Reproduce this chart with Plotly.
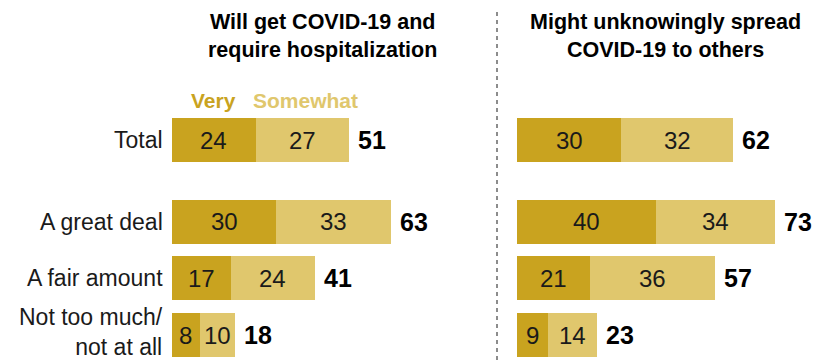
import plotly.graph_objects as go

# Survey rows and the two concerns shown side by side
categories = ["Total", "A great deal", "A fair amount", "Not too much/<br>not at all"]

hosp_very = [24, 30, 17, 8]
hosp_somewhat = [27, 33, 24, 10]
hosp_total = [51, 63, 41, 18]

spread_very = [30, 40, 21, 9]
spread_somewhat = [32, 34, 36, 14]
spread_total = [62, 73, 57, 23]

panel_titles = ["Will get COVID-19 and<br>require hospitalization",
                "Might unknowingly spread<br>COVID-19 to others"]
legend_labels = ["Very", "Somewhat"]

# Layout constants
W, H = 818, 360
row_pos = [0, 1.44, 2.44, 3.44]          # vertical slots (Total set apart)
ROW_PX = 56.75                           # pixels per slot
TOP_PX = 140                             # pixel centre of first row
PX_PER_UNIT = 3.48
LEFT0, LEFT1 = 172, 490
RIGHT0, RIGHT1 = 517, 818

COL_VERY = "#C9A31F"
COL_SOME = "#E0C76D"
FONT = "Liberation Sans, Arial, sans-serif"

y_top = -TOP_PX / ROW_PX
y_bot = (H - TOP_PX) / ROW_PX

fig = go.Figure()
annotations = []


def add_panel(very, some, tot, xa):
    common = dict(orientation="h", y=row_pos, width=0.775, xaxis=xa, yaxis="y",
                  hoverinfo="skip", showlegend=False)
    fig.add_trace(go.Bar(x=very, marker=dict(color=COL_VERY, line=dict(width=0)),
                         **common))
    fig.add_trace(go.Bar(x=some, base=very,
                         marker=dict(color=COL_SOME, line=dict(width=0)), **common))
    for v, s, t, yp in zip(very, some, tot, row_pos):
        # segment values, centred in each segment
        for base, val in ((0, v), (v, s)):
            annotations.append(dict(x=base + val / 2, y=yp, xref=xa, yref="y",
                                    text=str(val), showarrow=False,
                                    xanchor="center", yanchor="middle",
                                    font=dict(family=FONT, size=24, color="#1a1a1a")))
        # net total just past the bar end
        annotations.append(dict(x=v + s, y=yp, xref=xa, yref="y", text=str(t),
                                showarrow=False, xanchor="left", yanchor="middle",
                                xshift=7,
                                font=dict(family=FONT, size=25, color="#000000",
                                          weight="bold")))


add_panel(hosp_very, hosp_somewhat, hosp_total, "x")
add_panel(spread_very, spread_somewhat, spread_total, "x2")

# Row labels
for cat, yp in zip(categories, row_pos):
    two_line = "<br>" in cat
    annotations.append(dict(x=165 / W, y=yp, xref="paper", yref="y", text=cat,
                            showarrow=False, xanchor="right", yanchor="middle",
                            align="right", yshift=3 if two_line else 0,
                            font=dict(family=FONT, size=23, color="#1a1a1a")))

# Series key above the Total bar of the first panel
legend_y = (100 - TOP_PX) / ROW_PX
annotations.append(dict(x=hosp_very[0] / 2, y=legend_y, xref="x", yref="y",
                        text=legend_labels[0], showarrow=False, xanchor="center",
                        yanchor="middle",
                        font=dict(family=FONT, size=21, color=COL_VERY, weight="bold")))
annotations.append(dict(x=hosp_very[0] + hosp_somewhat[0] / 2, y=legend_y, xref="x",
                        yref="y", text=legend_labels[1], showarrow=False,
                        xanchor="center", yanchor="middle", xshift=3,
                        font=dict(family=FONT, size=21, color=COL_SOME, weight="bold")))

# Panel titles
for title, cx in zip(panel_titles, [322, 665]):
    annotations.append(dict(x=cx / W, y=1 - 36 / H, xref="paper", yref="paper",
                            text=title, showarrow=False, xanchor="center",
                            yanchor="middle", align="center",
                            font=dict(family=FONT, size=21.5, color="#000000",
                                      weight="bold")))

fig.update_layout(
    width=W, height=H,
    margin=dict(l=0, r=0, t=0, b=0),
    paper_bgcolor="white", plot_bgcolor="white",
    barmode="overlay", bargap=0,
    xaxis=dict(domain=[LEFT0 / W, LEFT1 / W],
               range=[0, (LEFT1 - LEFT0) / PX_PER_UNIT],
               visible=False, fixedrange=True),
    xaxis2=dict(domain=[RIGHT0 / W, RIGHT1 / W],
                range=[0, (RIGHT1 - RIGHT0) / PX_PER_UNIT],
                visible=False, fixedrange=True),
    yaxis=dict(range=[y_bot, y_top], visible=False, fixedrange=True),
    annotations=annotations,
    shapes=[dict(type="line", xref="paper", yref="paper",
                 x0=497 / W, x1=497 / W, y0=0, y1=1 - 12 / H,
                 line=dict(color="#8c8c8c", width=2, dash="4px,4px"))],
)

fig.write_html("out.html")
